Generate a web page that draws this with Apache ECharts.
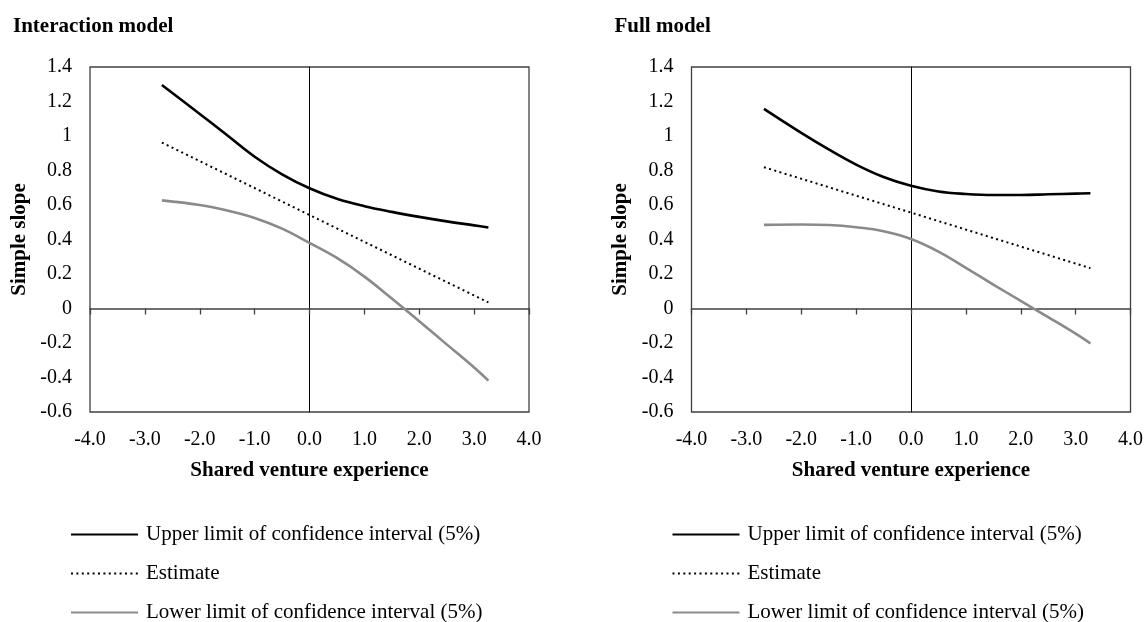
<!DOCTYPE html>
<html><head><meta charset="utf-8">
<script src="https://cdn.jsdelivr.net/npm/echarts@6/dist/echarts.min.js"></script>
<style>html,body{margin:0;padding:0;background:#fff}#c{width:1148px;height:622px}</style>
</head><body><div id="c"></div>
<script>
const panelTitles = ['Interaction model', 'Full model'];
const seriesNames = ['Upper limit of confidence interval (5%)', 'Estimate', 'Lower limit of confidence interval (5%)'];
const xAxisTitle = 'Shared venture experience';
const yAxisTitle = 'Simple slope';

// Interaction model
const intX = [-2.69, -2, -1.5, -1, -0.5, 0, 0.5, 1, 1.5, 2, 2.5, 3, 3.26];
const intUpper = [1.296, 1.128, 1.004, 0.880, 0.778, 0.697, 0.636, 0.593, 0.560, 0.531, 0.505, 0.482, 0.470];
const intLower = [0.627, 0.600, 0.568, 0.525, 0.463, 0.380, 0.293, 0.185, 0.058, -0.074, -0.208, -0.342, -0.418];
const intEstX = [-2.69, 0, 3.26];
const intEst = [0.962, 0.542, 0.035];

// Full model
const fullX = [-2.68, -2, -1.5, -1, -0.5, 0, 0.5, 1, 1.5, 2, 2.5, 3, 3.27];
const fullUpper = [1.157, 1.018, 0.922, 0.834, 0.762, 0.711, 0.678, 0.664, 0.658, 0.658, 0.662, 0.666, 0.668];
const fullLower = [0.485, 0.487, 0.484, 0.471, 0.448, 0.403, 0.330, 0.236, 0.139, 0.044, -0.050, -0.146, -0.203];
const fullEstX = [-2.68, 0, 3.27];
const fullEst = [0.819, 0.556, 0.234];

const FONT = "'Liberation Serif', 'Times New Roman', serif";
const pairs = (xs, ys) => xs.map((x, i) => [x, ys[i]]);

const panels = [
  {x: intX, up: intUpper, lo: intLower, ex: intEstX, es: intEst, left: 90},
  {x: fullX, up: fullUpper, lo: fullLower, ex: fullEstX, es: fullEst, left: 691.5}
];

const grid = [], xAxis = [], yAxis = [], series = [], legend = [], title = [];
panels.forEach((p, g) => {
  grid.push({left: p.left, top: 67, width: 439, height: 345, show: true,
    borderColor: '#404040', borderWidth: 1.3, backgroundColor: 'transparent'});
  title.push({text: panelTitles[g], left: p.left - 77, top: 16, padding: 0,
    textStyle: {fontFamily: FONT, fontSize: 21, fontWeight: 'bold', color: '#000'}});
  // labelled x axis at bottom
  xAxis.push({type: 'value', gridIndex: g, min: -4, max: 4, interval: 1, position: 'bottom',
    axisLine: {show: false, onZero: false}, axisTick: {show: false}, splitLine: {show: false},
    axisLabel: {fontFamily: FONT, fontSize: 20, color: '#000', margin: 18, formatter: v => v.toFixed(1)},
    name: xAxisTitle, nameLocation: 'middle', nameGap: 48,
    nameTextStyle: {fontFamily: FONT, fontSize: 21, fontWeight: 'bold', color: '#000'}});
  // zero-crossing x axis line with ticks
  xAxis.push({type: 'value', gridIndex: g, min: -4, max: 4, interval: 1, position: 'bottom',
    axisLine: {show: true, onZero: true, onZeroAxisIndex: 2 * g + 1, lineStyle: {color: '#404040', width: 1.6}},
    axisTick: {show: true, length: 6, inside: false, lineStyle: {color: '#404040', width: 1.3}},
    axisLabel: {show: false}, splitLine: {show: false}});
  yAxis.push({type: 'value', gridIndex: g, min: -0.6, max: 1.4, interval: 0.2, position: 'left',
    axisLine: {show: false, onZero: false}, axisTick: {show: false}, splitLine: {show: false},
    axisLabel: {fontFamily: FONT, fontSize: 20, color: '#000', margin: 18},
    name: yAxisTitle, nameLocation: 'middle', nameGap: 60,
    nameTextStyle: {fontFamily: FONT, fontSize: 21, fontWeight: 'bold', color: '#000'}});
  yAxis.push({type: 'value', gridIndex: g, min: -0.6, max: 1.4, interval: 0.2, position: 'left',
    axisLine: {show: true, onZero: true, onZeroAxisIndex: 2 * g + 1, lineStyle: {color: '#000', width: 1}},
    axisTick: {show: false}, axisLabel: {show: false}, splitLine: {show: false}});

  series.push({name: seriesNames[0], type: 'line', xAxisIndex: 2 * g, yAxisIndex: 2 * g,
    data: pairs(p.x, p.up), smooth: 0.4, symbol: 'none', z: 5,
    lineStyle: {color: '#000', width: 2.6}, itemStyle: {color: '#000'}});
  series.push({name: seriesNames[1], type: 'line', xAxisIndex: 2 * g, yAxisIndex: 2 * g,
    data: pairs(p.ex, p.es), smooth: false, symbol: 'none', z: 5,
    lineStyle: {color: '#000', width: 2, type: [2, 3.4]}, itemStyle: {color: '#000'}});
  series.push({name: seriesNames[2], type: 'line', xAxisIndex: 2 * g, yAxisIndex: 2 * g,
    data: pairs(p.x, p.lo), smooth: 0.4, symbol: 'none', z: 5,
    lineStyle: {color: '#8a8a8a', width: 2.6}, itemStyle: {color: '#8a8a8a'}});

  legend.push({data: seriesNames, orient: 'vertical', left: p.left - 20, top: 524, height: 120,
    itemWidth: 67, itemHeight: 14, itemGap: 18, padding: 0, selectedMode: false,
    itemStyle: {opacity: 0, borderWidth: 0},
    textStyle: {fontFamily: FONT, fontSize: 21, color: '#000', padding: [0, 0, 0, 3]}});
});

const chart = echarts.init(document.getElementById('c'), null, {renderer: 'canvas'});
chart.setOption({animation: false, backgroundColor: '#fff', title, grid, xAxis, yAxis, series, legend});
</script></body></html>
